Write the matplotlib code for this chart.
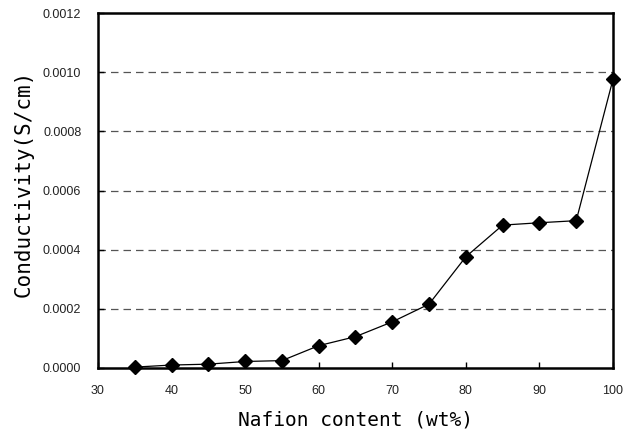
import numpy as np
import matplotlib.pyplot as plt

# Nafion content (wt%) vs conductivity (S/cm)
nafion = [35, 40, 45, 50, 55, 60, 65, 70, 75, 80, 85, 90, 95, 100]
conductivity = [0.000003, 0.000010, 0.000013, 0.000022, 0.000025, 0.0000755,
                0.000106, 0.000156, 0.000216, 0.000376, 0.000483, 0.000491,
                0.000498, 0.000976]

x_ticks = [30, 40, 50, 60, 70, 80, 90, 100]
y_ticks = [0.0, 0.0002, 0.0004, 0.0006, 0.0008, 0.0010, 0.0012]

fig = plt.figure(figsize=(6.25, 4.34), dpi=100)
ax = fig.add_axes([98 / 625, 1 - 368 / 434, 515 / 625, 355 / 434])

ax.plot(nafion, conductivity, color='black', lw=0.9, marker='D', ms=7,
        mfc='black', mec='black', zorder=5, clip_on=False)

ax.set_xlim(30, 100)
ax.set_ylim(0, 0.0012)
ax.set_xticks(x_ticks)
ax.set_yticks(y_ticks)
ax.set_yticklabels([f"{v:.4f}" for v in y_ticks])

for v in y_ticks[1:-1]:
    ax.axhline(v, color='#555555', lw=0.9, ls=(0, (6, 4)), zorder=1)

ax.tick_params(direction='in', length=4, width=1, labelsize=9, colors='black')
ax.tick_params(axis='x', pad=12)
ax.tick_params(axis='y', pad=12)
for lab in ax.get_xticklabels() + ax.get_yticklabels():
    lab.set_family('Liberation Sans')
    lab.set_color('#222222')

for s in ax.spines.values():
    s.set_linewidth(1.8)

ax.set_xlabel("Nafion content (wt%)", family='DejaVu Sans Mono',
              fontsize=14, labelpad=10)
ax.set_ylabel("Conductivity(S/cm)", family='DejaVu Sans Mono', fontsize=15)
ax.yaxis.set_label_coords(-0.125, 0.52)

fig.savefig('out.png', dpi=100)
